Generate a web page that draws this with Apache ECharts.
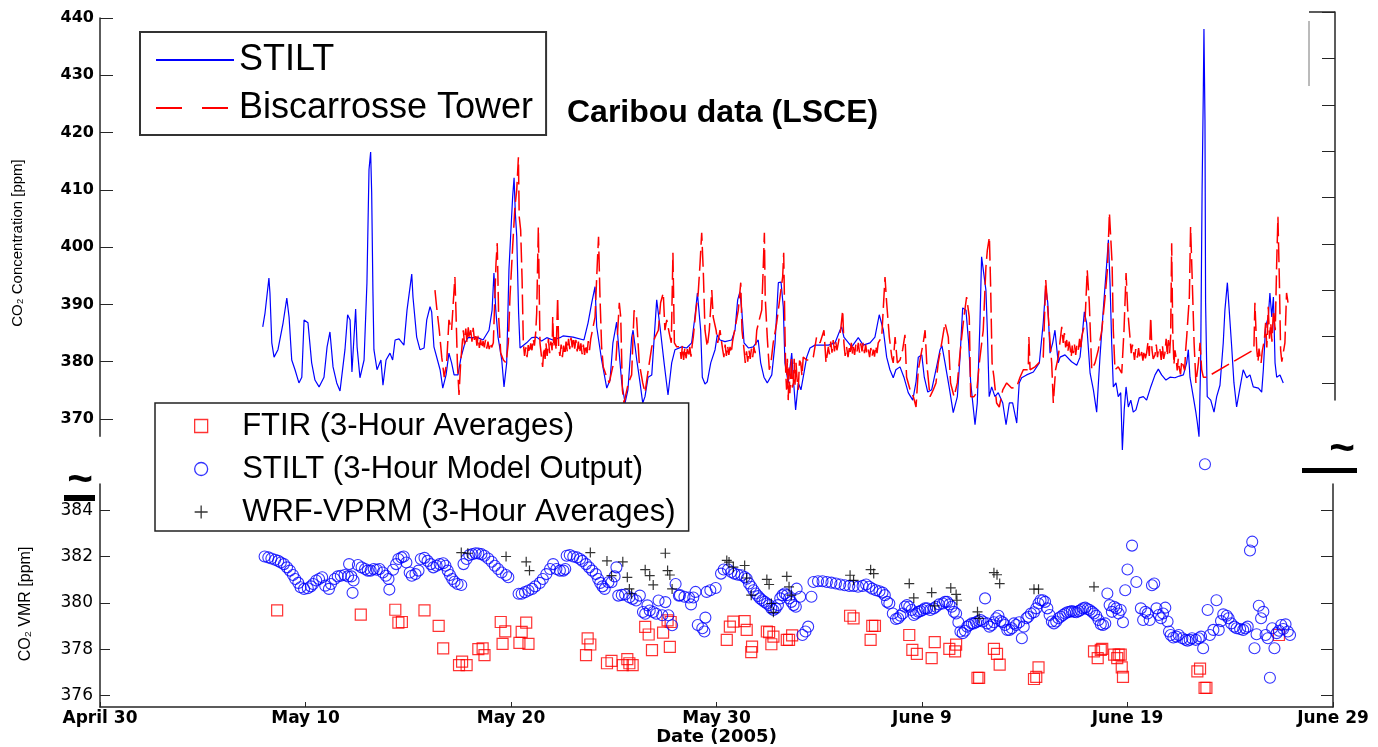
<!DOCTYPE html>
<html><head><meta charset="utf-8">
<script src="https://cdn.jsdelivr.net/npm/echarts@6/dist/echarts.min.js"></script>
<style>html,body{margin:0;padding:0;background:#fff}#c{width:1378px;height:747px}</style>
</head><body><div id="c"></div>
<script>
// x values are days since April 30, 2005
const xTickLabels = ['April 30','May 10','May 20','May 30','June 9','June 19','June 29'];
const topTicks = [370,380,390,400,410,420,430,440];
const bottomTicks = [376,378,380,382,384];
const rightTicks = [0,1,2,3,4,5,6,7,8];

const stiltTop = [[7.92,386.1],[8.03,388.5],[8.22,394.6],[8.27,392.0],[8.36,383.3],[8.47,380.8],[8.66,382.1],[8.91,386.8],[9.09,391.1],[9.20,387.8],[9.33,380.3],[9.49,378.6],[9.68,376.3],[9.82,377.3],[9.93,387.3],[10.12,386.8],[10.30,379.8],[10.46,376.8],[10.66,375.6],[10.90,377.3],[11.05,382.6],[11.19,385.2],[11.34,379.1],[11.52,376.3],[11.68,374.9],[11.92,382.1],[12.05,388.2],[12.17,387.3],[12.26,378.2],[12.44,389.2],[12.51,382.6],[12.65,377.2],[12.85,380.3],[12.99,393.8],[13.09,413.5],[13.17,416.6],[13.22,409.6],[13.28,392.5],[13.33,382.1],[13.48,378.6],[13.67,380.3],[13.77,375.9],[13.92,380.3],[14.11,381.5],[14.24,380.3],[14.36,383.8],[14.55,384.0],[14.79,382.9],[14.94,389.0],[15.17,395.3],[15.23,391.3],[15.41,384.3],[15.57,382.1],[15.77,382.4],[15.90,387.3],[16.06,389.6],[16.14,388.7],[16.25,382.6],[16.55,378.6],[16.68,375.4],[16.84,377.7],[16.98,381.5],[17.11,379.8],[17.23,377.7],[17.42,377.7],[17.57,380.8],[17.76,383.3],[17.91,384.2],[18.00,384.3],[18.39,384.2],[18.64,383.8],[18.93,385.5],[19.08,389.0],[19.17,395.5],[19.26,389.0],[19.37,384.3],[19.55,380.3],[19.66,375.6],[19.79,379.8],[19.90,396.0],[19.99,402.5],[20.08,408.8],[20.15,412.1],[20.21,406.0],[20.28,401.8],[20.37,388.5],[20.44,382.4],[20.76,383.3],[21.01,384.2],[21.25,384.3],[21.49,383.6],[21.74,384.2],[22.04,383.8],[22.38,384.2],[22.53,384.5],[23.02,384.3],[23.55,383.8],[23.75,386.8],[23.93,390.3],[24.09,393.1],[24.17,386.1],[24.41,380.3],[24.66,375.4],[24.82,376.8],[24.96,383.3],[25.14,386.9],[25.26,381.7],[25.39,376.3],[25.55,372.8],[25.69,375.1],[25.87,384.2],[25.94,385.5],[26.12,380.3],[26.28,376.3],[26.41,372.8],[26.52,373.9],[26.67,377.3],[26.85,377.7],[27.09,390.8],[27.25,386.1],[27.45,379.8],[27.64,374.2],[27.82,379.8],[27.98,382.1],[28.31,382.6],[28.55,382.4],[28.79,383.3],[28.95,387.8],[29.07,392.0],[29.16,392.2],[29.23,385.5],[29.31,377.3],[29.44,376.1],[29.55,376.5],[29.72,379.8],[29.93,382.1],[30.04,384.7],[30.17,383.8],[30.41,383.5],[30.74,383.8],[30.90,385.5],[31.03,390.8],[31.14,392.2],[31.23,389.0],[31.34,383.3],[31.55,382.4],[31.79,382.6],[32.03,383.8],[32.15,379.8],[32.31,377.3],[32.47,376.3],[32.69,377.7],[32.85,383.3],[33.01,393.8],[33.14,393.9],[33.25,389.6],[33.33,379.8],[33.49,376.3],[33.66,381.5],[33.77,375.6],[33.85,371.6],[33.98,376.3],[34.11,375.1],[34.22,377.3],[34.39,380.8],[34.55,382.4],[34.79,382.9],[35.12,382.9],[35.44,382.9],[35.77,383.3],[36.01,385.5],[36.09,386.1],[36.20,384.3],[36.58,382.6],[36.90,384.2],[37.14,382.9],[37.47,383.3],[37.71,384.3],[37.92,388.2],[38.12,385.5],[38.28,380.8],[38.44,378.6],[38.60,377.2],[38.73,378.6],[38.93,379.1],[39.12,377.3],[39.33,374.6],[39.55,373.3],[39.71,376.5],[39.82,380.8],[39.99,381.2],[40.11,377.3],[40.28,374.7],[40.47,375.1],[40.68,378.6],[40.88,382.1],[40.97,382.8],[41.12,379.8],[41.33,375.4],[41.52,371.1],[41.72,373.9],[41.85,380.8],[41.98,389.4],[42.14,389.0],[42.27,383.3],[42.37,376.3],[42.58,369.0],[42.69,372.8],[42.82,386.8],[42.90,398.3],[43.11,392.5],[43.18,385.5],[43.27,373.9],[43.39,375.6],[43.55,373.9],[43.71,374.6],[43.93,372.8],[44.09,369.0],[44.25,372.8],[44.41,372.8],[44.61,369.3],[44.73,376.3],[44.85,377.2],[45.09,377.7],[45.42,378.2],[45.71,379.8],[45.90,386.8],[46.02,393.1],[46.12,390.3],[46.23,381.5],[46.36,383.3],[46.47,385.5],[46.63,379.8],[46.72,380.8],[46.96,381.2],[47.28,380.0],[47.53,379.4],[47.69,380.8],[47.82,385.5],[47.90,388.7],[48.01,386.8],[48.18,378.0],[48.34,375.1],[48.50,371.2],[48.66,380.8],[48.82,389.0],[48.99,397.2],[49.07,401.3],[49.15,393.8],[49.23,383.3],[49.31,375.6],[49.44,376.3],[49.55,373.9],[49.67,374.6],[49.75,364.6],[49.84,371.6],[49.93,375.6],[50.04,372.1],[50.16,373.3],[50.28,371.2],[50.41,371.6],[50.57,373.7],[50.77,373.9],[50.93,373.3],[51.13,375.6],[51.34,377.7],[51.50,378.7],[51.66,377.7],[51.87,376.8],[52.07,377.3],[52.31,377.2],[52.52,377.5],[52.72,377.7],[52.88,379.8],[52.96,382.1],[53.04,377.3],[53.20,373.9],[53.33,371.1],[53.40,369.3],[53.48,366.9],[53.56,379.8],[53.63,410.0],[53.69,427.4],[53.72,438.1],[53.77,422.2],[53.80,390.3],[53.88,373.9],[54.05,373.3],[54.21,371.2],[54.34,373.9],[54.50,375.9],[54.66,383.3],[54.74,389.0],[54.86,393.8],[54.95,389.0],[55.07,382.6],[55.18,376.3],[55.31,372.1],[55.47,375.4],[55.63,378.6],[55.80,377.2],[55.96,377.7],[56.12,375.6],[56.37,375.4],[56.53,374.7],[56.61,378.6],[56.72,386.1],[56.85,387.8],[56.93,392.0],[57.02,387.8],[57.10,391.3],[57.18,379.8],[57.26,377.3],[57.42,377.7],[57.58,376.3]];

const towerTop = [[16.30,392.5],[16.38,389.6],[16.51,385.5],[16.63,380.8],[16.75,377.3],[16.87,379.8],[16.98,387.3],[17.11,385.5],[17.19,390.3],[17.27,394.8],[17.32,389.0],[17.39,379.8],[17.47,374.2],[17.55,379.8],[17.68,385.5],[17.74,383.0],[17.80,385.8],[17.86,383.3],[17.92,386.0],[17.98,384.0],[18.04,385.5],[18.10,383.5],[18.16,385.9],[18.22,383.8],[18.28,385.0],[18.34,382.8],[18.40,384.5],[18.46,382.4],[18.52,383.9],[18.58,382.3],[18.64,383.6],[18.70,382.5],[18.76,383.8],[18.82,382.3],[18.88,383.5],[18.94,382.2],[19.00,383.4],[19.06,382.5],[19.14,383.3],[19.27,397.2],[19.33,400.7],[19.40,387.8],[19.50,381.5],[19.63,380.3],[19.76,379.8],[19.87,383.3],[19.95,391.3],[20.08,400.0],[20.19,407.0],[20.28,410.0],[20.36,415.7],[20.40,405.3],[20.47,403.0],[20.54,394.3],[20.60,383.3],[20.66,381.0],[20.72,382.5],[20.78,380.8],[20.84,382.9],[20.90,381.5],[20.96,383.2],[21.02,382.0],[21.08,384.0],[21.14,382.8],[21.20,385.0],[21.25,388.5],[21.33,403.5],[21.41,383.3],[21.54,379.1],[21.60,382.5],[21.66,380.5],[21.70,383.3],[21.76,381.0],[21.82,384.0],[21.88,381.5],[21.94,383.5],[22.00,382.0],[22.03,387.8],[22.08,382.5],[22.14,384.3],[22.20,382.0],[22.27,391.3],[22.32,382.5],[22.38,381.0],[22.44,383.0],[22.50,380.8],[22.56,382.8],[22.62,381.2],[22.68,383.5],[22.74,381.8],[22.80,384.0],[22.86,382.2],[22.92,384.2],[22.98,382.5],[23.04,384.3],[23.10,382.3],[23.16,383.8],[23.22,381.8],[23.28,383.5],[23.34,381.5],[23.40,383.2],[23.46,381.3],[23.52,383.0],[23.58,381.2],[23.64,383.0],[23.70,381.5],[23.76,383.6],[23.82,382.0],[23.88,384.0],[23.93,384.3],[24.09,387.8],[24.20,397.2],[24.26,401.8],[24.33,391.3],[24.41,382.6],[24.49,379.1],[24.66,377.3],[24.78,376.3],[24.95,379.1],[25.11,380.3],[25.27,390.3],[25.34,387.8],[25.42,375.1],[25.50,372.8],[25.71,376.3],[25.87,377.7],[25.99,389.0],[26.11,387.8],[26.24,379.8],[26.41,376.3],[26.52,374.6],[26.68,378.6],[26.85,382.6],[27.01,384.3],[27.17,385.5],[27.28,390.3],[27.41,392.0],[27.49,385.5],[27.58,387.3],[27.70,385.0],[27.80,383.3],[27.88,399.0],[27.95,383.3],[28.06,382.6],[28.22,382.6],[28.28,380.5],[28.34,382.8],[28.40,380.3],[28.46,382.5],[28.52,380.6],[28.58,382.2],[28.64,380.8],[28.70,382.6],[28.76,380.9],[28.82,383.0],[28.87,384.3],[29.00,389.0],[29.11,392.0],[29.20,397.2],[29.28,402.5],[29.36,395.5],[29.44,385.5],[29.55,382.6],[29.65,385.5],[29.77,392.5],[29.84,387.8],[29.98,385.5],[30.06,383.3],[30.17,385.5],[30.30,382.1],[30.36,380.8],[30.42,383.0],[30.48,381.0],[30.54,382.8],[30.60,381.2],[30.66,382.6],[30.72,381.5],[30.78,383.5],[30.82,384.3],[30.95,386.8],[31.06,389.0],[31.18,393.8],[31.24,385.5],[31.34,382.1],[31.40,379.8],[31.46,381.8],[31.52,380.0],[31.58,382.0],[31.64,380.5],[31.70,382.3],[31.76,380.8],[31.82,382.6],[31.88,381.5],[31.96,385.5],[32.08,387.3],[32.20,389.0],[32.27,396.0],[32.33,402.5],[32.37,391.3],[32.47,384.3],[32.57,378.6],[32.65,379.8],[32.76,383.3],[32.93,386.8],[33.09,391.3],[33.22,394.8],[33.27,399.0],[33.33,385.5],[33.37,378.0],[33.41,375.1],[33.45,380.5],[33.49,373.3],[33.53,379.0],[33.57,374.5],[33.61,377.3],[33.65,381.0],[33.69,375.5],[33.74,376.3],[33.78,380.5],[33.82,376.0],[33.87,379.8],[33.92,377.0],[33.98,375.1],[34.04,380.2],[34.10,379.8],[34.16,377.5],[34.22,380.8],[34.39,380.3],[34.55,380.3],[34.71,380.8],[34.87,384.3],[35.04,383.3],[35.23,385.5],[35.33,379.8],[35.44,382.6],[35.50,381.3],[35.56,383.5],[35.62,381.6],[35.68,383.8],[35.74,381.8],[35.80,383.6],[35.86,382.0],[35.93,383.3],[36.04,385.5],[36.14,389.0],[36.20,383.3],[36.26,381.0],[36.33,382.6],[36.40,380.8],[36.46,382.4],[36.50,381.5],[36.56,383.3],[36.62,381.4],[36.66,382.6],[36.72,381.2],[36.78,383.0],[36.84,381.8],[36.90,383.3],[36.96,381.6],[37.02,383.2],[37.08,381.8],[37.14,383.3],[37.20,381.5],[37.26,383.0],[37.32,381.3],[37.39,382.1],[37.45,380.8],[37.51,382.4],[37.57,381.0],[37.63,382.1],[37.69,380.9],[37.75,382.8],[37.81,381.5],[37.87,383.3],[38.04,384.3],[38.20,394.8],[38.28,390.3],[38.41,384.3],[38.53,380.8],[38.60,379.8],[38.69,384.3],[38.80,379.8],[38.93,380.3],[39.06,382.1],[39.17,384.7],[39.25,377.3],[39.42,375.1],[39.58,373.9],[39.71,372.1],[39.82,378.6],[39.93,380.8],[40.06,383.3],[40.15,385.5],[40.23,379.8],[40.39,373.9],[40.55,375.1],[40.68,376.3],[40.79,379.8],[40.96,383.3],[41.12,386.8],[41.28,384.3],[41.39,376.3],[41.56,373.9],[41.72,376.3],[41.88,382.6],[42.04,387.8],[42.17,391.3],[42.30,387.8],[42.37,373.9],[42.53,373.9],[42.66,374.6],[42.79,379.8],[42.98,385.5],[43.11,396.5],[43.18,399.5],[43.28,401.8],[43.34,393.1],[43.41,379.8],[43.50,377.3],[43.63,372.8],[43.76,372.1],[43.93,375.1],[44.12,376.3],[44.36,375.4],[44.61,375.6],[44.77,377.3],[44.93,378.6],[45.17,378.6],[45.20,384.3],[45.26,378.6],[45.50,379.1],[45.74,380.0],[45.90,380.8],[46.02,394.3],[46.10,390.3],[46.19,385.5],[46.31,379.8],[46.39,372.8],[46.50,378.6],[46.63,380.8],[46.80,386.1],[46.87,383.3],[46.93,385.0],[46.99,382.5],[47.04,383.8],[47.10,381.8],[47.16,383.5],[47.20,382.6],[47.26,380.8],[47.31,382.8],[47.36,381.5],[47.42,383.0],[47.48,381.2],[47.54,383.0],[47.61,382.1],[47.67,384.0],[47.72,382.0],[47.77,384.3],[47.93,386.8],[48.04,396.0],[48.14,390.3],[48.26,378.6],[48.42,379.8],[48.58,382.1],[48.75,385.5],[48.91,391.3],[49.02,396.0],[49.12,406.0],[49.19,406.1],[49.25,397.2],[49.31,385.5],[49.39,378.6],[49.55,379.1],[49.72,378.0],[49.83,385.5],[49.93,395.5],[50.01,389.0],[50.12,384.3],[50.18,381.5],[50.24,383.0],[50.28,382.1],[50.34,380.3],[50.40,382.2],[50.48,380.7],[50.54,382.4],[50.60,380.5],[50.69,381.7],[50.75,380.2],[50.81,382.0],[50.87,380.6],[50.93,381.5],[51.00,383.5],[51.06,381.0],[51.13,387.8],[51.19,382.1],[51.25,380.5],[51.34,381.2],[51.40,383.0],[51.46,380.8],[51.52,382.5],[51.58,382.1],[51.64,380.3],[51.70,382.8],[51.76,380.5],[51.82,381.5],[51.88,384.0],[51.94,381.0],[51.99,383.8],[52.05,381.5],[52.10,384.5],[52.15,400.7],[52.20,385.5],[52.26,379.5],[52.31,382.0],[52.36,380.8],[52.42,378.5],[52.47,380.5],[52.52,378.9],[52.58,377.8],[52.64,380.2],[52.72,380.3],[52.78,378.5],[52.83,382.0],[52.88,384.3],[53.01,391.3],[53.07,403.5],[53.14,395.5],[53.24,383.3],[53.33,376.3],[53.45,379.8],[53.53,383.3],[53.61,378.6],[53.69,377.3],[53.85,377.3],[56.15,382.1],[56.20,390.3],[56.29,382.1],[56.35,380.0],[56.40,382.3],[56.45,380.8],[56.50,379.8],[56.56,381.9],[56.61,382.1],[56.66,383.8],[56.72,386.8],[56.78,382.5],[56.85,389.6],[56.91,384.0],[56.97,386.8],[57.03,383.5],[57.10,389.0],[57.19,385.5],[57.26,397.2],[57.32,405.3],[57.39,394.3],[57.45,382.1],[57.51,380.0],[57.58,380.3],[57.66,383.3],[57.74,392.0],[57.81,390.3]];

const ftir = [[8.62,379.67],[12.69,379.49],[14.37,379.70],[14.52,379.14],[14.69,379.17],[15.79,379.67],[16.48,379.00],[16.70,378.03],[17.47,377.31],[17.62,377.46],[17.84,377.31],[18.41,378.00],[18.62,378.03],[18.71,377.74],[19.50,379.17],[19.59,378.23],[19.72,378.77],[20.41,378.27],[20.52,378.74],[20.74,379.14],[20.85,378.23],[23.65,377.74],[23.73,378.46],[23.86,378.20],[24.67,377.39],[24.89,377.49],[25.44,377.31],[25.66,377.57],[25.76,377.39],[25.92,377.31],[26.53,378.96],[26.70,378.63],[26.86,377.96],[27.40,378.71],[27.62,379.24],[27.73,378.10],[27.77,379.17],[30.50,378.40],[30.65,378.97],[30.82,379.19],[31.37,379.21],[31.47,378.83],[31.69,377.87],[31.73,378.11],[32.45,378.76],[32.56,378.73],[32.67,378.21],[32.77,378.54],[33.42,378.40],[33.53,378.40],[33.68,378.59],[36.50,379.44],[36.67,379.33],[37.50,378.40],[37.58,379.00],[37.71,379.00],[39.38,378.61],[39.53,377.97],[39.75,377.79],[40.47,377.61],[40.62,378.30],[41.33,378.01],[41.61,377.90],[41.66,378.19],[42.70,376.76],[42.78,376.76],[43.50,378.01],[43.65,377.79],[43.78,377.33],[45.45,376.71],[45.56,376.80],[45.67,377.21],[48.37,377.90],[48.55,377.61],[48.70,377.97],[48.77,378.01],[49.35,377.76],[49.50,377.61],[49.57,377.76],[49.67,377.76],[49.72,377.21],[49.78,376.80],[53.40,377.04],[53.53,377.16],[53.75,376.33],[53.84,376.33],[57.37,378.61]];

const stiltBottom = [[8.01,382.00],[8.19,381.96],[8.34,381.91],[8.52,381.86],[8.67,381.81],[8.80,381.74],[8.95,381.67],[9.10,381.53],[9.24,381.39],[9.39,381.20],[9.50,381.03],[9.65,380.86],[9.76,380.67],[9.93,380.60],[10.11,380.63],[10.26,380.71],[10.37,380.81],[10.52,380.96],[10.66,381.03],[10.81,381.10],[10.96,380.74],[11.14,380.60],[11.24,380.81],[11.42,381.03],[11.57,381.14],[11.72,381.17],[11.90,381.20],[12.07,381.14],[12.12,381.67],[12.23,381.14],[12.29,380.43],[12.34,380.96],[12.55,381.63],[12.73,381.53],[12.90,381.46],[13.03,381.39],[13.17,381.39],[13.32,381.46],[13.47,381.43],[13.60,381.46],[13.76,381.31],[13.91,381.17],[14.04,381.03],[14.08,380.57],[14.26,381.43],[14.41,381.67],[14.52,381.89],[14.67,381.96],[14.78,382.00],[14.91,381.74],[15.07,381.31],[15.17,381.17],[15.35,381.24],[15.50,381.39],[15.61,381.89],[15.79,381.94],[15.94,381.81],[16.09,381.67],[16.22,381.53],[16.38,381.60],[16.53,381.67],[16.70,381.71],[16.81,381.60],[16.92,381.39],[17.03,381.20],[17.14,381.03],[17.25,380.91],[17.40,380.81],[17.58,380.77],[17.69,381.67],[17.84,381.89],[17.97,382.06],[18.12,382.10],[18.28,382.14],[18.41,382.13],[18.56,382.10],[18.71,382.03],[18.89,381.91],[19.06,381.77],[19.21,381.60],[19.37,381.46],[19.54,381.31],[19.76,381.20],[19.87,381.10],[20.37,380.39],[20.52,380.39],[20.68,380.46],[20.85,380.53],[21.03,380.60],[21.18,380.71],[21.40,380.86],[21.55,381.03],[21.72,381.24],[21.90,381.46],[22.05,381.67],[22.21,381.46],[22.38,381.39],[22.55,381.39],[22.64,381.46],[22.71,382.03],[22.86,382.06],[23.03,382.00],[23.21,381.96],[23.36,381.89],[23.47,381.81],[23.65,381.67],[23.80,381.53],[23.95,381.39],[24.13,381.24],[24.24,381.03],[24.34,380.86],[24.45,380.71],[24.56,380.60],[24.74,380.89],[24.89,380.89],[25.04,381.14],[25.13,381.53],[25.22,380.31],[25.39,380.34],[25.55,380.36],[25.76,380.24],[25.92,380.17],[26.09,380.10],[26.27,380.31],[26.42,379.60],[26.53,379.53],[26.64,379.89],[26.75,379.67],[26.92,379.60],[27.07,379.53],[27.18,380.10],[27.36,379.46],[27.51,380.03],[27.66,379.46],[27.84,379.03],[28.01,380.81],[28.17,380.31],[28.22,380.33],[28.44,380.26],[28.66,380.23],[28.76,379.93],[28.87,380.23],[28.98,380.47],[29.09,379.04],[29.31,378.90],[29.41,378.76],[29.46,379.36],[29.52,380.47],[29.70,380.54],[29.96,380.64],[30.22,381.26],[30.35,381.44],[30.56,381.44],[30.72,381.33],[30.87,381.26],[31.04,381.21],[31.21,381.19],[31.37,381.11],[31.47,381.04],[31.58,380.83],[31.69,380.69],[31.80,380.54],[31.91,380.40],[32.02,380.29],[32.12,380.19],[32.23,380.11],[32.34,380.04],[32.45,379.97],[32.56,379.90],[32.67,379.76],[32.77,379.69],[32.88,379.76],[32.99,379.90],[33.10,380.19],[33.21,380.33],[33.32,380.40],[33.42,380.33],[33.53,380.19],[33.64,380.04],[33.75,379.90],[33.86,379.83],[33.90,380.61],[34.07,380.26],[34.18,378.61],[34.33,378.76],[34.46,378.97],[34.62,380.26],[34.72,380.90],[34.94,380.93],[35.16,380.93],[35.37,380.90],[35.59,380.87],[35.81,380.83],[36.02,380.79],[36.24,380.76],[36.46,380.73],[36.67,380.73],[36.89,380.69],[37.11,380.73],[37.28,380.79],[37.43,380.69],[37.58,380.61],[37.76,380.54],[37.93,380.50],[38.08,380.44],[38.19,380.33],[38.30,380.04],[38.41,379.97],[38.58,379.54],[38.73,379.30],[38.84,379.33],[38.95,379.44],[39.06,379.54],[39.17,379.83],[39.27,379.90],[39.38,379.83],[39.49,379.69],[39.60,379.47],[39.71,379.54],[39.82,379.61],[39.92,379.64],[40.03,379.69],[40.14,379.76],[40.25,379.76],[40.40,379.69],[40.57,379.76],[40.68,379.83],[40.83,379.93],[41.01,379.97],[41.12,380.04],[41.22,380.04],[41.33,379.93],[41.44,379.83],[41.55,379.61],[41.66,379.54],[41.77,379.16],[41.87,378.76],[41.98,378.69],[42.09,378.79],[42.20,378.97],[42.31,379.04],[42.42,379.11],[42.52,379.11],[42.63,379.16],[42.74,379.21],[42.85,379.26],[42.96,379.19],[43.07,380.19],[43.17,379.11],[43.28,378.97],[43.39,379.04],[43.50,379.16],[43.61,379.33],[43.72,379.44],[43.82,379.21],[43.93,379.16],[44.04,379.04],[44.15,378.83],[44.26,378.83],[44.37,378.90],[44.47,379.11],[44.58,379.04],[44.73,379.16],[44.86,378.47],[44.95,378.97],[45.08,379.33],[45.17,379.40],[45.30,379.54],[45.45,379.59],[45.56,379.76],[45.67,379.97],[45.77,380.11],[45.88,380.11],[45.99,380.04],[46.10,379.76],[46.21,379.47],[46.32,379.19],[46.42,379.11],[46.53,379.19],[46.64,379.33],[46.75,379.40],[46.86,379.47],[46.97,379.54],[47.07,379.59],[47.18,379.61],[47.29,379.64],[47.40,379.61],[47.51,379.59],[47.62,379.64],[47.72,379.69],[47.83,379.76],[47.94,379.79],[48.05,379.73],[48.16,379.69],[48.27,379.61],[48.37,379.54],[48.48,379.44],[48.59,379.26],[48.70,379.07],[48.81,379.04],[48.92,379.11],[49.02,380.40],[49.13,379.90],[49.24,379.61],[49.35,379.83],[49.46,379.76],[49.57,379.54],[49.67,379.69],[49.78,379.16],[49.89,380.54],[50.00,381.44],[50.22,382.47],[50.43,380.90],[50.65,379.76],[50.76,379.26],[50.87,379.61],[50.98,379.54],[51.08,379.26],[51.19,380.76],[51.30,380.83],[51.41,379.76],[51.52,379.47],[51.63,379.33],[51.73,379.54],[51.84,379.79],[51.95,379.19],[52.02,378.76],[52.10,378.61],[52.23,378.50],[52.38,378.54],[52.49,378.61],[52.67,378.47],[52.82,378.40],[52.92,378.36],[53.03,378.40],[53.14,378.47],[53.32,378.40],[53.47,378.47],[53.58,378.54],[53.68,378.04],[53.77,385.98],[53.90,379.69],[54.01,378.61],[54.18,378.83],[54.33,380.11],[54.44,378.83],[54.55,379.21],[54.66,379.50],[54.83,379.44],[54.92,379.33],[55.05,379.11],[55.20,378.97],[55.31,378.90],[55.48,378.87],[55.63,378.83],[55.74,378.90],[55.85,378.97],[55.96,382.26],[56.07,382.64],[56.18,378.04],[56.28,378.64],[56.39,379.87],[56.50,379.33],[56.61,379.61],[56.72,378.61],[56.83,378.47],[56.93,376.76],[57.04,378.90],[57.15,378.04],[57.26,378.69],[57.37,378.79],[57.48,379.04],[57.58,378.87],[57.69,379.07],[57.80,378.76],[57.91,378.61]];

const wrf = [[17.58,382.17],[17.90,382.14],[19.76,382.00],[20.74,381.77],[20.90,381.39],[23.86,382.17],[24.67,381.81],[24.89,381.17],[25.44,381.77],[25.66,381.10],[25.76,380.60],[25.87,380.39],[26.53,381.43],[26.75,381.17],[26.92,380.77],[27.51,382.14],[27.62,381.39],[27.73,381.20],[27.84,380.60],[30.50,381.83],[30.61,381.76],[30.82,381.54],[31.37,381.61],[31.47,381.07],[31.69,380.33],[32.45,381.01],[32.56,380.79],[32.67,379.97],[32.77,379.59],[33.42,381.14],[33.53,380.69],[33.64,380.33],[36.50,381.19],[36.67,380.97],[37.50,381.43],[37.65,381.26],[39.38,380.83],[39.60,380.21],[40.47,380.44],[40.62,379.87],[41.40,380.64],[41.66,380.36],[41.70,380.11],[42.70,379.61],[42.78,379.33],[43.50,381.30],[43.65,381.21],[43.78,380.83],[45.45,380.59],[45.67,380.59],[48.37,380.69]];

const AX = '#262626';
const PLUS = 'path://M5,0L5,10M0,5L10,5';
const SQUARE = 'path://M0,0L10,0L10,10L0,10Z';
const clear = 'rgba(0,0,0,0)';

const chart = echarts.init(document.getElementById('c'), null, {renderer: 'canvas'});
chart.setOption({
  animation: false,
  backgroundColor: '#fff',
  title: {
    text: 'Caribou data (LSCE)', left: 567, top: 97, padding: 0,
    textStyle: {fontSize: 32, fontWeight: 'bold', fontFamily: 'Liberation Sans', color: '#000'}
  },
  grid: [
    {left: 100, right: 45, top: 18, height: 418.2},
    {left: 1200, right: 43, top: 12, height: 388},
    {left: 100, right: 45, top: 484, height: 225.3}
  ],
  xAxis: [
    {gridIndex: 0, type: 'value', min: 0, max: 60, show: false},
    {gridIndex: 1, type: 'value', min: 0, max: 1, show: false},
    {gridIndex: 2, type: 'value', min: 0, max: 60, interval: 10,
      axisLine: {onZero: false, lineStyle: {color: AX, width: 1.5}},
      axisTick: {inside: true, length: 5, lineStyle: {color: AX}},
      splitLine: {show: false},
      axisLabel: {formatter: v => xTickLabels[Math.round(v / 10)], showMinLabel: true, showMaxLabel: true,
        margin: 3, color: '#000', fontSize: 17, fontWeight: 'bold', fontFamily: 'DejaVu Sans'},
      name: 'Date (2005)', nameLocation: 'middle', nameGap: 21,
      nameTextStyle: {color: '#000', fontSize: 18, fontWeight: 'bold', fontFamily: 'DejaVu Sans'}
    }
  ],
  yAxis: [
    {gridIndex: 0, type: 'value', min: 367, max: 440, position: 'left',
      axisLine: {show: true, onZero: false, lineStyle: {color: AX, width: 1.5}},
      axisTick: {show: true, inside: true, length: 13, customValues: topTicks, lineStyle: {color: AX}},
      axisLabel: {customValues: topTicks, margin: 6, color: '#000', fontSize: 16, fontWeight: 'bold', fontFamily: 'DejaVu Sans'},
      splitLine: {show: false}},
    {gridIndex: 1, type: 'value', min: -0.366, max: 8, position: 'right',
      axisLine: {show: true, onZero: false, lineStyle: {color: AX, width: 1.5}},
      axisTick: {show: true, inside: true, length: 13, customValues: rightTicks, lineStyle: {color: AX}},
      axisLabel: {show: false}, splitLine: {show: false}},
    {gridIndex: 2, type: 'value', min: 375.5, max: 385.13, position: 'left',
      axisLine: {show: true, onZero: false, lineStyle: {color: AX, width: 1.5}},
      axisTick: {show: true, inside: true, length: 10, customValues: bottomTicks, lineStyle: {color: AX}},
      axisLabel: {customValues: bottomTicks, margin: 7, color: '#000', fontSize: 17, fontFamily: 'DejaVu Sans'},
      splitLine: {show: false}},
    {gridIndex: 2, type: 'value', min: 375.5, max: 385.13, position: 'right',
      axisLine: {show: true, onZero: false, lineStyle: {color: AX, width: 1.5}},
      axisTick: {show: true, inside: true, length: 12, customValues: bottomTicks, lineStyle: {color: AX}},
      axisLabel: {show: false}, splitLine: {show: false}}
  ],
  legend: [
    {data: [
        {name: 'STILT', itemStyle: {opacity: 0}},
        {name: 'Biscarrosse Tower', itemStyle: {opacity: 0}, lineStyle: {type: [26, 20]}}
      ],
      orient: 'vertical', left: 140, top: 32, itemWidth: 78, itemHeight: 14, itemGap: 8,
      padding: [8, 13, 7, 15], borderColor: '#333', borderWidth: 2, backgroundColor: '#fff',
      selectedMode: false, textStyle: {fontSize: 36, lineHeight: 40, fontFamily: 'Liberation Sans', color: '#000'}},
    {data: [
        {name: 'FTIR (3-Hour Averages)', icon: SQUARE, itemStyle: {color: clear, borderColor: '#ff0000', borderWidth: 1.3}},
        {name: 'STILT (3-Hour Model Output)', icon: 'circle', itemStyle: {color: clear, borderColor: '#0000ff', borderWidth: 1.3}},
        {name: 'WRF-VPRM (3-Hour Averages)', icon: PLUS, itemStyle: {color: clear, borderColor: '#000', borderWidth: 1.3}}
      ],
      orient: 'vertical', left: 155, top: 403, itemWidth: 72, itemHeight: 13, itemGap: 9,
      padding: [6, 13, 2, 39], borderColor: '#222', borderWidth: 1.5, backgroundColor: '#fff',
      selectedMode: false, textStyle: {fontSize: 31, lineHeight: 34, fontFamily: 'Liberation Sans', color: '#000'}}
  ],
  series: [
    {type: 'line', name: 'STILT', xAxisIndex: 0, yAxisIndex: 0, data: stiltTop, symbol: 'none', clip: false, z: 2,
      lineStyle: {color: '#0000ff', width: 1.2}, itemStyle: {color: '#0000ff'}, emphasis: {disabled: true}},
    {type: 'line', name: 'Biscarrosse Tower', xAxisIndex: 0, yAxisIndex: 0, data: towerTop, symbol: 'none', clip: false, z: 3,
      lineStyle: {color: '#ff0000', width: 1.5, type: [20, 6]}, itemStyle: {color: '#ff0000'}, emphasis: {disabled: true}},
    {type: 'scatter', name: 'FTIR (3-Hour Averages)', xAxisIndex: 2, yAxisIndex: 2, data: ftir, symbol: 'rect', symbolSize: 11, clip: false,
      itemStyle: {color: clear, borderColor: '#ff0000', borderWidth: 1.2}, emphasis: {disabled: true}},
    {type: 'scatter', name: 'STILT (3-Hour Model Output)', xAxisIndex: 2, yAxisIndex: 2, data: stiltBottom, symbol: 'circle', symbolSize: 11, clip: false,
      itemStyle: {color: clear, borderColor: '#0000ff', borderWidth: 1.1}, emphasis: {disabled: true}},
    {type: 'scatter', name: 'WRF-VPRM (3-Hour Averages)', xAxisIndex: 2, yAxisIndex: 2, data: wrf, symbol: PLUS, symbolSize: 10, clip: false,
      itemStyle: {color: clear, borderColor: '#000', borderWidth: 1.2}, emphasis: {disabled: true}}
  ],
  graphic: [
    {type: 'text', x: 18, y: 243, rotation: Math.PI / 2,
      style: {text: 'CO\u2082 Concentration [ppm]', fontSize: 15, fontFamily: 'Liberation Sans', fill: '#000', align: 'center', verticalAlign: 'middle'}},
    {type: 'text', x: 26, y: 604, rotation: Math.PI / 2,
      style: {text: 'CO\u2082 VMR [ppm]', fontSize: 16, fontFamily: 'Liberation Sans', fill: '#000', align: 'center', verticalAlign: 'middle'}},
    {type: 'text', x: 80, y: 481, style: {text: '~', fontSize: 44, fontWeight: 'bold', fontFamily: 'Liberation Sans', fill: '#000', align: 'center', verticalAlign: 'middle'}},
    {type: 'rect', shape: {x: 64, y: 495, width: 31, height: 6}, style: {fill: '#000'}},
    {type: 'text', x: 1342, y: 450, style: {text: '~', fontSize: 44, fontWeight: 'bold', fontFamily: 'Liberation Sans', fill: '#000', align: 'center', verticalAlign: 'middle'}},
    {type: 'rect', shape: {x: 1302, y: 468, width: 55, height: 5}, style: {fill: '#000'}},
    {type: 'line', shape: {x1: 1309, y1: 12, x2: 1335, y2: 12}, style: {stroke: AX, lineWidth: 1.5}},
    {type: 'line', shape: {x1: 1309, y1: 21, x2: 1309, y2: 86}, style: {stroke: '#777', lineWidth: 1}}
  ]
});
</script>
</body></html>
